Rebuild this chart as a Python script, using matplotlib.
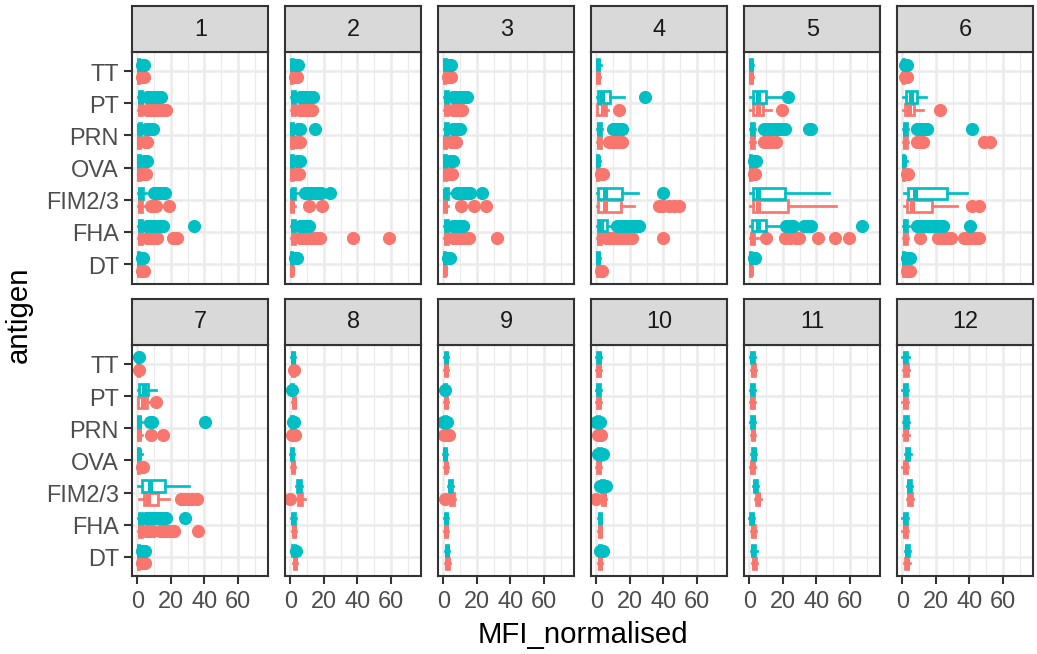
import numpy as np
import matplotlib.pyplot as plt

plt.rcParams['font.family'] = ['Liberation Sans', 'DejaVu Sans']

antigens = ["DT", "FHA", "FIM2/3", "OVA", "PRN", "PT", "TT"]
panel_names = [str(i) for i in range(1, 13)]
x_major = [0, 20, 40, 60]
x_minor = [10, 30, 50, 70]

# box stats per antigen (DT .. TT): (whislo, q1, median, q3, whishi, outliers)
teal_p1 = [(0.2, 0.5, 0.8, 1.2, 1.8, [2.5, 3.5]),
           (0.2, 0.8, 1.5, 2.5, 4.5, [5.5, 7, 8.5, 10, 12, 13.5, 15.5, 34]),
           (0.2, 0.8, 1.5, 3.5, 5, [9.7, 11, 12.5, 14, 16.5]),
           (0.2, 0.5, 0.9, 1.5, 2.5, [4, 5.5]),
           (0.2, 0.7, 1.2, 2.0, 3.5, [5, 6.5, 8, 9.5]),
           (0.2, 0.8, 1.5, 2.5, 4, [5.5, 7, 8.5, 9.5, 11, 12.5, 14]),
           (0.2, 0.5, 0.8, 1.2, 2, [3, 4])]
red_p1 = [(0.2, 0.5, 0.8, 1.2, 2, [3, 4]),
          (0.2, 0.8, 1.5, 2.5, 4.5, [5.5, 7, 8.5, 10, 11.5, 21.5, 23.5]),
          (0.2, 0.8, 1.4, 2.5, 4, [8.4, 10, 11.3, 19]),
          (0.2, 0.5, 0.9, 1.5, 2.5, [3.5, 5]),
          (0.2, 0.6, 1.0, 1.8, 3, [4.5, 6]),
          (0.2, 0.8, 1.5, 2.5, 4, [5.5, 7, 8.5, 10, 11.5, 13, 15, 17]),
          (0.2, 0.5, 0.8, 1.2, 2, [3, 4])]

teal_p2 = [(0.2, 0.5, 0.8, 1.2, 2, [3, 4]),
           (0.2, 0.8, 1.5, 2.5, 4, [5.5, 7, 8.5, 10, 11]),
           (0.3, 0.7, 1.2, 2.5, 4.5, [8.5, 10.5, 12.5, 14.5, 16.5, 18, 23.5]),
           (0.2, 0.6, 1.0, 1.6, 2.5, [4, 5.5]),
           (0.2, 0.6, 1.0, 1.8, 3, [4.5, 6, 14.5]),
           (0.2, 0.8, 1.5, 2.5, 4, [5.5, 7, 8.5, 10, 12, 13.5]),
           (0.2, 0.5, 0.9, 1.4, 2.2, [3.5, 4.5])]
red_p2 = [(0.2, 0.5, 0.8, 1.2, 1.8, []),
          (0.2, 0.8, 1.5, 2.5, 4, [5.5, 7, 8.5, 10, 11.5, 13, 15, 17.5, 37.5, 58.5]),
          (0.2, 0.5, 1.0, 1.8, 3, [11, 19]),
          (0.2, 0.5, 0.9, 1.5, 2.5, [3.5, 5]),
          (0.2, 0.5, 0.9, 1.5, 2.5, [3.5, 5.5]),
          (0.2, 0.8, 1.5, 2.5, 4, [5.5, 7, 8.5, 10, 11.5, 13]),
          (0.2, 0.5, 0.8, 1.2, 2, [3, 4])]

teal_p3 = [(0.2, 0.5, 0.8, 1.2, 2, [3, 4]),
           (0.2, 0.8, 1.5, 2.5, 4, [5.5, 7, 8.5, 10, 12]),
           (0.3, 0.7, 1.2, 2.5, 4.5, [8, 9.5, 11, 12.5, 14, 16, 23]),
           (0.2, 0.6, 1.0, 1.6, 2.5, [4, 6]),
           (0.2, 0.8, 1.5, 2.5, 4, [5.5, 7, 8.5, 10]),
           (0.2, 0.8, 1.5, 2.5, 4, [5.5, 7, 8.5, 10, 11.5, 14]),
           (0.2, 0.5, 0.9, 1.4, 2.2, [3.5, 4.5])]
red_p3 = [(0.2, 0.5, 0.8, 1.2, 1.8, []),
          (0.2, 0.8, 1.5, 2.5, 4, [5.5, 7, 8.5, 10, 11.5, 13, 15, 32]),
          (0.2, 0.5, 1.0, 1.8, 3, [10.5, 18, 25.5]),
          (0.2, 0.5, 0.9, 1.5, 2.5, [3.5, 5]),
          (0.2, 0.6, 1.0, 1.8, 3, [4.5, 6, 7.5]),
          (0.2, 0.8, 1.5, 2.5, 4, [5.5, 7, 8.5, 10, 11]),
          (0.2, 0.5, 0.8, 1.2, 2, [3, 4.5])]

teal_p4 = [(0.2, 0.5, 1.0, 1.6, 2.2, []),
           (0.3, 1.0, 3.0, 6.4, 11, [12.5, 14, 15.5, 17, 18.5, 20, 22, 24, 25.5]),
           (0.3, 1.0, 5.0, 15.4, 24.6, [39.7]),
           (0.1, 0.4, 0.8, 1.2, 2.2, []),
           (0.2, 0.8, 1.5, 2.5, 3.5, [10, 11.5, 13, 14.5, 15.5]),
           (0.3, 1.0, 3.6, 8.3, 16.2, [29]),
           (0.2, 0.5, 1.0, 1.6, 2.5, [])]
red_p4 = [(0.2, 0.5, 0.8, 1.2, 1.8, [2.5, 3.5]),
          (0.2, 0.8, 1.5, 2.5, 4, [6, 7.5, 9, 10.5, 12, 13.5, 15, 17, 19, 21.5, 39.7]),
          (0.3, 1.0, 5.0, 14.5, 22.6, [37.4, 40, 43.2, 46, 49]),
          (0.2, 0.5, 0.8, 1.2, 1.8, [2.5, 3.8]),
          (0.2, 0.8, 1.5, 2.5, 3.8, [7.5, 9, 10.5, 12, 13.5, 15]),
          (0.2, 0.6, 4.0, 6.0, 7, [13.4]),
          (0.2, 0.5, 0.9, 1.4, 2.2, [])]

teal_p5 = [(0.2, 0.5, 0.8, 1.2, 1.8, [2.5, 3.5]),
           (0.3, 1.3, 5.0, 9.7, 18, [21.9, 24, 26.2, 32.6, 34.5, 36.6, 67]),
           (0.2, 1.9, 5.2, 21.5, 47.4, []),
           (0.2, 0.5, 0.8, 1.2, 1.8, [2.5, 3.5, 4]),
           (0.2, 0.8, 1.5, 2.5, 3.5, [9, 11, 13, 15, 17, 19, 21.5, 35.5, 37]),
           (0.3, 1.9, 5.0, 10.1, 19, [22.8]),
           (0.2, 0.5, 0.9, 1.3, 2, [])]
red_p5 = [(0.2, 0.5, 0.8, 1.2, 1.8, []),
          (0.2, 0.8, 1.5, 3, 5, [9.7, 21, 24, 27.5, 29.3, 40.9, 51.3, 59.1]),
          (0.2, 2.0, 5.0, 23.3, 51.6, []),
          (0.2, 0.5, 0.8, 1.2, 1.8, [2.5, 3.5]),
          (0.2, 0.8, 1.5, 2.5, 3.5, [9, 11, 13, 16]),
          (0.3, 2.0, 5.0, 8.0, 13, [19.5]),
          (0.2, 0.5, 0.9, 1.3, 2, [])]

teal_p6 = [(0.2, 0.5, 0.8, 1.2, 1.8, [2.5, 3.5, 4.5]),
           (0.2, 0.8, 1.5, 2.5, 4, [8.5, 10.5, 12.5, 14.5, 16.5, 18.5, 20.5, 22.5, 24, 40.3]),
           (1.0, 3.4, 7.8, 26.6, 38.3, []),
           (0.1, 0.4, 0.8, 1.2, 2.5, []),
           (0.2, 0.8, 1.5, 2.5, 3.5, [8.5, 10.5, 12.5, 14.5, 41.7]),
           (0.5, 1.9, 5.4, 8.9, 14.2, []),
           (0.2, 0.4, 0.6, 0.8, 0.9, [1.5, 2.5])]
red_p6 = [(0.2, 0.5, 0.8, 1.2, 1.8, [2.5, 3.5, 4.5]),
          (0.2, 0.8, 1.5, 2.5, 3.5, [10.3, 21, 23, 25, 27, 29, 37, 39, 41, 43.5, 45.6]),
          (1.0, 3.0, 6.0, 17.5, 32.5, [41.7, 45.6]),
          (0.2, 0.5, 0.8, 1.2, 1.8, [2.5, 3.5]),
          (0.2, 0.8, 1.5, 2.5, 3.5, [8.5, 10.5, 12.5, 48.5, 52.5]),
          (0.3, 1.5, 4.0, 7.0, 12.2, [22.5]),
          (0.2, 0.4, 0.6, 0.8, 0.9, [1.5, 2.5])]

teal_p7 = [(0.2, 0.5, 0.8, 1.2, 1.8, [2.5, 3.5, 4.5]),
           (0.2, 0.8, 1.5, 2.5, 3.5, [5, 6.5, 8, 9.5, 11, 12.5, 14, 15.5, 17, 28.5]),
           (0.5, 2.5, 7.8, 16.2, 31, []),
           (0.1, 0.4, 0.8, 1.2, 2.5, []),
           (0.2, 0.6, 1.0, 1.8, 2.5, [7.5, 9, 40.3]),
           (0.3, 1.0, 3.9, 6.4, 11, []),
           (0.2, 0.4, 0.6, 0.9, 1.2, [1.2])]
red_p7 = [(0.2, 0.5, 0.8, 1.2, 1.8, [2.5, 3.5, 4.5]),
          (0.2, 0.8, 1.5, 2.5, 3.5, [5, 6.5, 8, 9.5, 13.5, 15, 16.5, 18, 20, 22, 36]),
          (1.2, 3.9, 6.4, 12.4, 18.8, [26, 28, 30, 32.7, 35.8]),
          (0.2, 0.5, 0.8, 1.2, 1.8, [2.5, 3.5]),
          (0.2, 0.6, 1.0, 1.8, 2.5, [8.4, 15.2]),
          (0.3, 0.6, 3.5, 6.0, 7, [11]),
          (0.2, 0.4, 0.6, 0.9, 1.2, [1.2])]

teal_p8 = [(0.5, 1.2, 2.0, 3.0, 3.5, [3.6]),
           (0.5, 1.0, 1.8, 2.8, 3.5, []),
           (3.5, 4.0, 5.0, 6.5, 7, []),
           (0.0, 0.4, 0.9, 1.6, 2.2, []),
           (0.3, 0.6, 1.0, 1.5, 2.0, [1.3, 2.0]),
           (0.3, 0.6, 1.0, 1.5, 2.5, [0.7]),
           (0.5, 1.0, 1.6, 2.3, 3.0, [])]
red_p8 = [(1.5, 2.0, 2.6, 3.3, 4.0, []),
          (0.8, 1.3, 2.0, 2.8, 3.5, []),
          (3.6, 4.5, 5.5, 7.0, 8.5, [0.0]),
          (0.5, 1.0, 1.5, 2.0, 2.5, []),
          (0.5, 1.0, 1.5, 2.2, 3.0, [1.0, 3.0]),
          (1.0, 1.4, 2.0, 2.6, 3.0, []),
          (0.5, 1.0, 1.5, 2.0, 2.5, [2.0])]

teal_p9 = [(1.0, 1.5, 2.2, 3.0, 3.5, []),
           (0.5, 1.0, 1.6, 2.4, 3.0, []),
           (2.5, 3.2, 4.2, 5.2, 6.0, []),
           (0.0, 0.5, 1.0, 1.5, 2.0, []),
           (0.2, 0.5, 0.9, 1.4, 2.0, [0.0, 2.0]),
           (0.2, 0.6, 1.0, 1.6, 2.5, [0.7]),
           (0.3, 0.8, 1.5, 2.3, 3.0, [])]
red_p9 = [(1.0, 1.6, 2.4, 3.2, 4.0, []),
          (0.5, 1.0, 1.6, 2.4, 3.0, []),
          (3.5, 4.2, 5.0, 6.2, 7.0, [0.7]),
          (0.3, 0.8, 1.3, 1.8, 2.5, []),
          (0.5, 1.0, 1.8, 2.6, 3.5, [0.5, 3.5]),
          (0.3, 0.8, 1.4, 2.0, 2.5, []),
          (0.3, 0.8, 1.5, 2.3, 3.0, [])]

teal_p10 = [(1.0, 1.5, 2.2, 3.0, 3.5, [2, 4]),
            (1.0, 1.4, 2.0, 2.6, 3.0, []),
            (1.5, 2.5, 3.5, 4.5, 5.5, [2, 4, 6]),
            (0.5, 1.2, 2.0, 2.8, 3.5, [1, 4]),
            (0.0, 0.5, 1.0, 1.5, 2.0, [0, 2]),
            (0.0, 0.5, 1.2, 2.0, 2.5, []),
            (0.0, 0.6, 1.4, 2.2, 3.0, [])]
red_p10 = [(1.0, 1.5, 2.2, 3.0, 3.5, []),
           (1.0, 1.4, 2.0, 2.6, 3.0, []),
           (3.0, 3.6, 4.5, 5.4, 6.0, [0]),
           (0.0, 0.6, 1.4, 2.2, 3.0, []),
           (0.5, 1.0, 1.8, 2.6, 3.5, [1, 3]),
           (0.0, 0.6, 1.4, 2.2, 3.0, []),
           (0.0, 0.6, 1.4, 2.2, 3.0, [])]

teal_p11 = [(1.0, 1.6, 2.4, 3.4, 4.3, []),
            (0.0, 0.6, 1.4, 2.2, 3.0, []),
            (1.9, 2.6, 3.4, 4.4, 5.3, []),
            (1.0, 1.7, 2.5, 3.4, 4.2, []),
            (0.5, 1.2, 2.0, 2.8, 3.6, []),
            (0.3, 1.0, 1.8, 2.6, 3.5, []),
            (0.3, 1.0, 1.8, 2.6, 3.5, [])]
red_p11 = [(1.4, 2.0, 2.9, 3.8, 4.8, []),
           (1.0, 1.6, 2.4, 3.2, 4.0, []),
           (3.3, 4.0, 4.9, 5.8, 6.8, []),
           (0.3, 1.0, 1.8, 2.6, 3.5, []),
           (0.7, 1.3, 2.1, 2.9, 3.6, []),
           (0.3, 1.0, 1.8, 2.6, 3.5, []),
           (0.7, 1.3, 2.2, 3.1, 4.0, [])]

teal_p12 = [(1.3, 2.0, 3.0, 4.0, 4.8, []),
            (0.0, 0.8, 1.6, 2.6, 3.5, []),
            (2.5, 3.2, 4.2, 5.2, 6.0, []),
            (1.5, 2.2, 3.2, 4.2, 5.0, []),
            (0.5, 1.2, 2.2, 3.2, 4.0, []),
            (0.0, 0.8, 1.6, 2.6, 3.5, []),
            (0.0, 0.8, 1.8, 3.0, 4.0, [])]
red_p12 = [(0.9, 1.6, 2.6, 3.6, 4.4, []),
           (0.0, 0.8, 1.6, 2.6, 3.5, []),
           (2.8, 3.5, 4.5, 5.6, 6.4, []),
           (0.0, 0.8, 1.6, 2.6, 3.5, []),
           (0.5, 1.2, 2.0, 2.9, 3.7, []),
           (0.0, 0.8, 1.6, 2.6, 3.5, []),
           (0.5, 1.2, 2.2, 3.2, 4.0, [])]

teal_all = [teal_p1, teal_p2, teal_p3, teal_p4, teal_p5, teal_p6,
            teal_p7, teal_p8, teal_p9, teal_p10, teal_p11, teal_p12]
red_all = [red_p1, red_p2, red_p3, red_p4, red_p5, red_p6,
           red_p7, red_p8, red_p9, red_p10, red_p11, red_p12]

RED = "#F8766D"
TEAL = "#00BFC4"
W, H = 1037, 655


def px_rect(left, top, width, height):
    return [left / W, 1 - (top + height) / H, width / W, height / H]


def draw_group(ax, stats, offset, colour):
    bstats = [dict(whislo=lo, q1=q1, med=md, q3=q3, whishi=hi, fliers=out)
              for lo, q1, md, q3, hi, out in stats]
    pos = np.arange(1, len(antigens) + 1) + offset
    ax.bxp(bstats, positions=pos, widths=0.36, orientation="horizontal",
           showcaps=False, patch_artist=True,
           boxprops=dict(facecolor="white", edgecolor=colour, linewidth=1.3),
           whiskerprops=dict(color=colour, linewidth=1.3),
           medianprops=dict(color=colour, linewidth=2.4, solid_capstyle="butt"),
           flierprops=dict(marker="o", markerfacecolor=colour, markeredgecolor=colour,
                           markeredgewidth=0.5, markersize=5.8, linestyle="none"))


fig = plt.figure(figsize=(W / 150, H / 150), dpi=150)

col_left = [132.3, 285.3, 438.3, 591.3, 744.3, 897.3]
row_top = [52.7, 345.5]
pw, ph, sh = 136, 231.8, 46

for i, name in enumerate(panel_names):
    r, c = divmod(i, 6)
    ax = fig.add_axes(px_rect(col_left[c], row_top[r], pw, ph))
    ax.set_axisbelow(True)
    draw_group(ax, red_all[i], -0.2, RED)
    draw_group(ax, teal_all[i], 0.2, TEAL)

    ax.set_xlim(-3, 78)
    ax.set_ylim(0.4, 7.6)
    ax.set_xticks(x_major)
    ax.set_xticks(x_minor, minor=True)
    ax.set_yticks(np.arange(1, 8))
    ax.set_yticklabels(antigens)
    ax.set_xticklabels([str(v) for v in x_major])
    ax.grid(which="major", color="#EBEBEB", linewidth=1.2)
    ax.grid(which="minor", axis="x", color="#EBEBEB", linewidth=0.6)
    ax.tick_params(which="minor", length=0)
    ax.tick_params(which="major", length=3.7, width=1.0, color="#333333",
                   labelcolor="#4D4D4D", labelsize=11.3, pad=2.7)
    for sp in ax.spines.values():
        sp.set_color("#333333")
        sp.set_linewidth(1.0)
    if c != 0:
        ax.tick_params(axis="y", length=0, labelleft=False)
    if r == 0:
        ax.tick_params(axis="x", length=0, labelbottom=False)

    sx = fig.add_axes(px_rect(col_left[c], row_top[r] - sh, pw, sh))
    sx.set_facecolor("#D9D9D9")
    sx.set_xticks([])
    sx.set_yticks([])
    for sp in sx.spines.values():
        sp.set_color("#333333")
        sp.set_linewidth(1.0)
    sx.text(0.5, 0.5, name, ha="center", va="center", fontsize=11.3,
            color="#1A1A1A", transform=sx.transAxes)

fig.text(583 / W, 1 - 635 / H, "MFI_normalised", ha="center", va="center",
         fontsize=14.1, color="black")
fig.text(19 / W, 1 - 315 / H, "antigen", ha="center", va="center",
         rotation=90, fontsize=14.1, color="black")

fig.savefig("out.png", dpi=150)
